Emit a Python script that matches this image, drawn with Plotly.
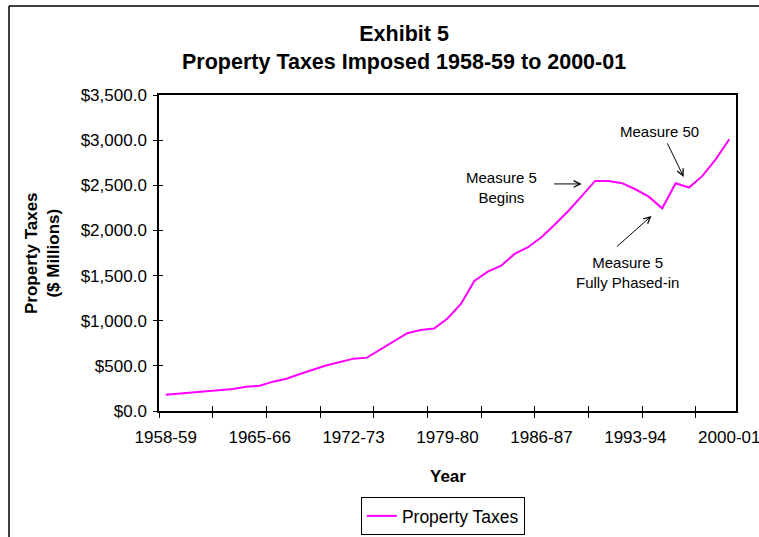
import plotly.graph_objects as go

# Fiscal years 1958-59 through 2000-01
years = [f"{y}-{str(y + 1)[-2:]}" for y in range(1958, 2001)]

# Property taxes imposed, $ millions
property_taxes = [
    181, 194, 207, 222, 236, 244, 269, 280, 325, 358,
    410, 458, 506, 543, 580, 591, 683, 776, 861, 897,
    914, 1025, 1186, 1440, 1543, 1610, 1740, 1814, 1925, 2065,
    2215, 2380, 2548, 2548, 2523, 2456, 2374, 2245, 2523, 2475,
    2604, 2790, 3010,
]

# Axis labelling
label_every = 7
tickmark_every = 4
y_ticks = [0, 500, 1000, 1500, 2000, 2500, 3000, 3500]

FONT = "Liberation Sans, Arial, sans-serif"
n = len(years)
idx = list(range(n))
x_range = [-0.5, n - 0.5]
y_range = [0, 3500]

label_pos = idx[::label_every]
label_txt = years[::label_every]
mark_pos = [i - 0.5 for i in range(0, n, tickmark_every)]

fig = go.Figure()
fig.add_trace(go.Scatter(
    x=idx, y=property_taxes, mode="lines", name="Property Taxes",
    line=dict(color="#FF00FF", width=2),
    customdata=years,
    hovertemplate="%{customdata}: $%{y:,.1f}M<extra></extra>",
))
# empty helper traces so the overlay axes are drawn
fig.add_trace(go.Scatter(x=[], y=[], xaxis="x2", yaxis="y", showlegend=False))
fig.add_trace(go.Scatter(x=[], y=[], xaxis="x3", yaxis="y", showlegend=False))
fig.add_trace(go.Scatter(x=[], y=[], xaxis="x", yaxis="y2", showlegend=False))

axis_line = dict(showline=True, linecolor="black", linewidth=1.5, showgrid=False,
                 zeroline=False, fixedrange=True)

fig.update_layout(
    width=759, height=537,
    margin=dict(l=159, r=23, t=95, b=126, autoexpand=False),
    paper_bgcolor="white", plot_bgcolor="white",
    font=dict(family=FONT, color="black", size=17),
    xaxis=dict(range=x_range, tickmode="array", tickvals=mark_pos,
               showticklabels=False, ticks="outside", ticklen=5, tickwidth=1,
               tickcolor="black", mirror=True, **axis_line),
    xaxis2=dict(range=x_range, overlaying="x", anchor="y", side="bottom",
                tickmode="array", tickvals=mark_pos, showticklabels=False,
                ticks="inside", ticklen=5, tickwidth=1, tickcolor="black",
                showline=False, showgrid=False, zeroline=False),
    xaxis3=dict(range=x_range, overlaying="x", anchor="y", side="bottom",
                tickmode="array", tickvals=label_pos, ticktext=label_txt,
                ticks="", ticklabelstandoff=14, tickfont=dict(size=17),
                ticklabeloverflow="allow",
                showline=False, showgrid=False, zeroline=False),
    yaxis=dict(range=y_range, tickmode="array", tickvals=y_ticks,
               tickformat="$,.1f", ticks="outside", ticklen=4,
               tickwidth=1, tickcolor="black", ticklabelstandoff=3,
               tickfont=dict(size=17), mirror=True, **axis_line),
    yaxis2=dict(range=y_range, overlaying="y", anchor="x", side="left",
                tickmode="array", tickvals=y_ticks, showticklabels=False,
                ticks="inside", ticklen=4, tickwidth=1, tickcolor="black",
                showline=False, showgrid=False, zeroline=False),
    showlegend=True,
    legend=dict(orientation="h", x=0.492, xanchor="center",
                y=(411 - 497) / 316, yanchor="top", bordercolor="black",
                borderwidth=1, bgcolor="white", font=dict(size=17.5),
                itemwidth=30, tracegroupgap=0),
)

# Title
fig.add_annotation(
    xref="paper", yref="paper", x=(404 - 159) / 577, y=(411 - 47.5) / 316,
    text="<b>Exhibit 5<br>Property Taxes Imposed 1958-59 to 2000-01</b>",
    showarrow=False, font=dict(size=21.5), xanchor="center", yanchor="middle",
)
# Axis titles
fig.add_annotation(
    xref="paper", yref="paper", x=0.5, y=(411 - 476) / 316,
    text="<b>Year</b>", showarrow=False, font=dict(size=17),
    xanchor="center", yanchor="middle",
)
fig.add_annotation(
    xref="paper", yref="paper", x=(42 - 159) / 577, y=0.5,
    text="<b>Property Taxes<br>($ Millions)</b>", showarrow=False,
    font=dict(size=17), textangle=-90, xanchor="center", yanchor="middle",
)

# Event labels
note_font = dict(size=15)
fig.add_annotation(x=25.06, y=2476, text="Measure 5<br>Begins", showarrow=False,
                   font=note_font)
fig.add_annotation(x=36.83, y=3091, text="Measure 50", showarrow=False,
                   font=note_font)
fig.add_annotation(x=34.45, y=1529, text="Measure 5<br>Fully Phased-in",
                   showarrow=False, font=note_font)

arrow = dict(text="", showarrow=True, arrowhead=5, arrowsize=1.3,
             arrowwidth=1, arrowcolor="black", axref="pixel", ayref="pixel")
fig.add_annotation(x=31.0, y=2515, ax=-29, ay=0, **arrow)
fig.add_annotation(x=38.6, y=2593, ax=-17, ay=-35, **arrow)
fig.add_annotation(x=36.2, y=2161, ax=-36, ay=32, **arrow)

# Outer chart frame (left and top edges)
fx = (9 - 159) / 577
fy = (411 - 6) / 316
fig.add_shape(type="line", xref="paper", yref="paper", x0=fx, x1=fx,
              y0=fy, y1=-0.5, line=dict(color="black", width=1.5))
fig.add_shape(type="line", xref="paper", yref="paper", x0=fx, x1=1.2,
              y0=fy, y1=fy, line=dict(color="black", width=1.5))

fig.write_html("out.html")
